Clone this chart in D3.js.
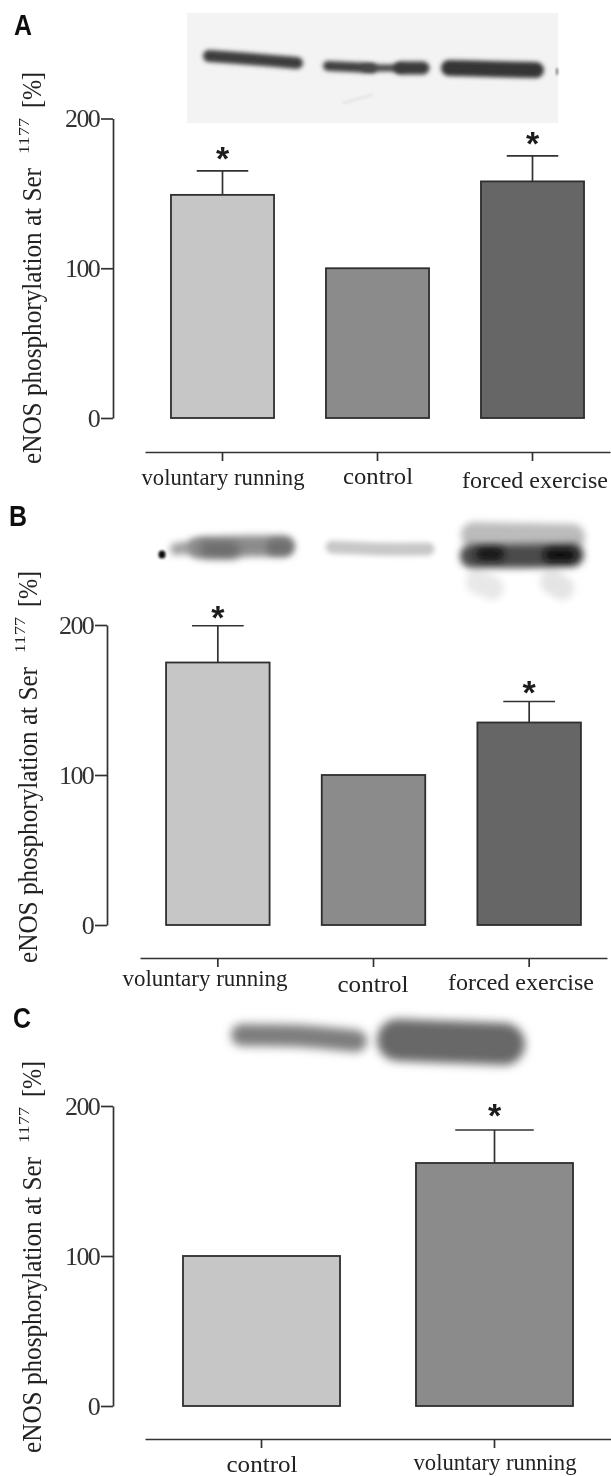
<!DOCTYPE html>
<html lang="en">
<head>
<meta charset="UTF-8">
<title>eNOS phosphorylation at Ser 1177</title>
<script src="https://d3js.org/d3.v7.min.js"></script>
<style>
  body { margin: 0; background: #fff; overflow: hidden; }
  svg { display: block; }
  text { fill: #222; font-family: "Liberation Serif", serif; }
  .axis path, .axis line { stroke: #333; stroke-width: 1.7; }
  .axis text { font-size: 26px; letter-spacing: -1.7px; fill: #333; font-family: "Liberation Serif", serif; }
</style>
</head>
<body>
<script>
// values
const categoriesA = ["voluntary running", "control", "forced exercise"];
const valuesA = [149, 100, 158];
const errorsA = [16, 0, 17];
const sigA = [true, false, true];

const categoriesB = ["voluntary running", "control", "forced exercise"];
const valuesB = [175, 100, 135];
const errorsB = [24.5, 0, 14];
const sigB = [true, false, true];

const categoriesC = ["control", "voluntary running"];
const valuesC = [100, 162];
const errorsC = [0, 22];
const sigC = [false, true];

const yTicks = [0, 100, 200];
const fillsThree = ["#c6c6c6", "#8b8b8b", "#666666"];
const fillsTwo = ["#c6c6c6", "#8b8b8b"];

const width = 611, height = 1476;

const svg = d3.select("body").append("svg")
  .attr("width", width).attr("height", height);

const defs = svg.append("defs");
[0.45, 0.9, 1.6, 2.2, 2.5, 3.5, 5].forEach(s => {
  defs.append("filter")
    .attr("id", "blur" + String(s).replace(".", "_"))
    .attr("filterUnits", "userSpaceOnUse")
    .attr("x", 0).attr("y", 0).attr("width", width).attr("height", height)
    .append("feGaussianBlur").attr("stdDeviation", s);
});

// the scan is soft, so everything goes through a small blur
const root = svg.append("g").attr("filter", "url(#blur0_45)");
root.append("rect").attr("width", width).attr("height", height).attr("fill", "#fff");

// blot images: thick blurred strokes [points, width, colour, blur]
const blotLine = d3.line().curve(d3.curveCatmullRom);
function drawBlots(list) {
  list.forEach(b => {
    root.append("path")
      .attr("d", blotLine(b[0]))
      .attr("fill", "none")
      .attr("stroke", b[2])
      .attr("stroke-width", b[1])
      .attr("stroke-linecap", "round")
      .attr("filter", "url(#blur" + String(b[3]).replace(".", "_") + ")");
  });
}

root.append("rect")
  .attr("x", 187).attr("y", 13).attr("width", 371).attr("height", 110)
  .attr("fill", "#f3f3f3");

drawBlots([
  [[[209, 56], [250, 59], [297, 63]], 12, "#3c3c3c", 2.2],
  [[[328, 66], [372, 68]], 10, "#404040", 2.2],
  [[[365, 68], [402, 68]], 7, "#484848", 2.2],
  [[[400, 68], [423, 68]], 13, "#3a3a3a", 2.2],
  [[[449, 68], [490, 69], [536, 70]], 16, "#363636", 2.2],
  [[[557, 69], [557, 74]], 2, "#777", 0.9],
  [[[343, 103], [372, 95]], 1.5, "#dadada", 1.6]
]);

drawBlots([
  [[[162, 554], [162, 555]], 7, "#111", 0.9],
  [[[176, 549], [205, 546]], 12, "#a0a0a0", 3.5],
  [[[198, 548], [250, 546], [284, 546]], 21, "#8c8c8c", 3.5],
  [[[208, 549], [232, 550]], 16, "#6c6c6c", 5],
  [[[274, 547], [285, 547]], 16, "#707070", 3.5],
  [[[332, 547], [380, 549], [428, 549]], 13, "#c8c8c8", 2.5],
  [[[478, 582], [492, 588]], 24, "#e8e8e8", 3.5],
  [[[552, 582], [562, 588]], 24, "#e4e4e4", 3.5],
  [[[474, 535], [572, 537]], 26, "#bcbcbc", 3.5],
  [[[472, 556], [520, 556], [572, 555]], 24, "#4c4c4c", 3.5],
  [[[482, 554], [498, 554]], 13, "#161616", 3.5],
  [[[550, 555], [570, 555]], 13, "#0c0c0c", 3.5]
]);

drawBlots([
  [[[242, 1035], [300, 1036], [356, 1041]], 22, "#7e7e7e", 5],
  [[[398, 1040], [450, 1042], [504, 1044]], 42, "#686868", 5]
]);

// text squeezed to the width it has in the figure
function fitText(str, x, y, size, len, rotate, anchor) {
  const t = root.append("text")
    .attr("font-size", size)
    .attr("text-anchor", anchor || "middle")
    .attr("textLength", len)
    .attr("lengthAdjust", "spacingAndGlyphs")
    .text(str);
  if (rotate) t.attr("transform", `translate(${x},${y}) rotate(-90)`);
  else t.attr("x", x).attr("y", y);
  return t;
}

function drawPanel(p) {
  const y = d3.scaleLinear().domain([0, 200]).range([p.y0, p.y200]);
  const x = d3.scaleBand().domain(p.categories)
    .range(p.xRange).paddingInner(p.pad).paddingOuter(p.pad / 2);

  const g = root.append("g");

  const bars = p.categories.map((c, i) => ({
    c, v: p.values[i], e: p.errors[i], sig: p.sig[i], fill: p.fills[i], i
  }));

  // error bars go under the bars
  g.selectAll(".err").data(bars.filter(d => d.e > 0)).join("path")
    .attr("fill", "none").attr("stroke", "#333").attr("stroke-width", 1.7)
    .attr("d", d => {
      const cx = x(d.c) + x.bandwidth() / 2, cap = x.bandwidth() / 4;
      return `M${cx},${y(d.v)}V${y(d.v + d.e)}M${cx - cap},${y(d.v + d.e)}H${cx + cap}`;
    });

  g.selectAll(".bar").data(bars).join("rect")
    .attr("x", d => x(d.c))
    .attr("y", d => y(d.v))
    .attr("width", x.bandwidth())
    .attr("height", d => y(0) - y(d.v))
    .attr("fill", d => d.fill)
    .attr("stroke", "#2e2e2e")
    .attr("stroke-width", 1.8);

  g.selectAll(".star").data(bars.filter(d => d.sig)).join("text")
    .attr("x", d => x(d.c) + x.bandwidth() / 2)
    .attr("y", d => y(d.v + d.e) - p.starGap[d.i] + 20)
    .attr("text-anchor", "middle")
    .attr("font-size", 34)
    .attr("font-weight", 700)
    .style("font-family", "'Liberation Sans', sans-serif")
    .style("fill", "#1c1c1c")
    .text("*");

  g.append("g").attr("class", "axis")
    .attr("transform", `translate(${p.yAxisX},0)`)
    .call(d3.axisLeft(y).tickValues(yTicks).tickSize(12).tickSizeOuter(0).tickPadding(2));

  g.append("g").attr("class", "axis")
    .attr("transform", `translate(0,${p.xAxisY})`)
    .call(d3.axisBottom(x).tickSize(9).tickSizeOuter(0).tickFormat(""));

  p.labels.forEach((l, i) => fitText(p.categories[i], l[0], l[1], 24, l[2]));

  // panel letter
  root.append("text")
    .attr("x", p.letter[1]).attr("y", p.letter[2])
    .attr("font-size", 29).attr("font-weight", 700)
    .attr("textLength", 18).attr("lengthAdjust", "spacingAndGlyphs")
    .style("font-family", "'Liberation Sans', sans-serif")
    .style("fill", "#111")
    .text(p.letter[0]);

  // rotated y title, three pieces with the gaps of the figure
  fitText("eNOS phosphorylation at Ser", p.titleX, p.titleBottom, 27, 296, true, "start");
  fitText("1177", p.titleX - 12, p.titleBottom - 310, 15, 36, true, "start");
  fitText("[%]", p.titleX, p.titleBottom - 356, 27, 36, true, "start");
}

drawPanel({
  categories: categoriesA, values: valuesA, errors: errorsA, sig: sigA, fills: fillsThree,
  y0: 418, y200: 118.5, yAxisX: 113, xAxisY: 452, xRange: [145, 610], pad: 0.335,
  starGap: [21, null, 21],
  labels: [[223, 485, 163], [378, 484, 70], [535, 488, 146]],
  letter: ["A", 14, 35], titleX: 41, titleBottom: 464
});

drawPanel({
  categories: categoriesB, values: valuesB, errors: errorsB, sig: sigB, fills: fillsThree,
  y0: 925, y200: 625, yAxisX: 107, xAxisY: 958, xRange: [140, 607], pad: 0.335,
  starGap: [17, null, 18],
  labels: [[205, 986, 165], [373, 992, 71], [521, 990, 146]],
  letter: ["B", 9, 526], titleX: 37, titleBottom: 963
});

drawPanel({
  categories: categoriesC, values: valuesC, errors: errorsC, sig: sigC, fills: fillsTwo,
  y0: 1406, y200: 1106, yAxisX: 113, xAxisY: 1439, xRange: [145, 611], pad: 0.326,
  starGap: [null, 23],
  labels: [[262, 1472, 71], [495, 1470, 163]],
  letter: ["C", 13, 1028], titleX: 41, titleBottom: 1453
});
</script>
</body>
</html>
